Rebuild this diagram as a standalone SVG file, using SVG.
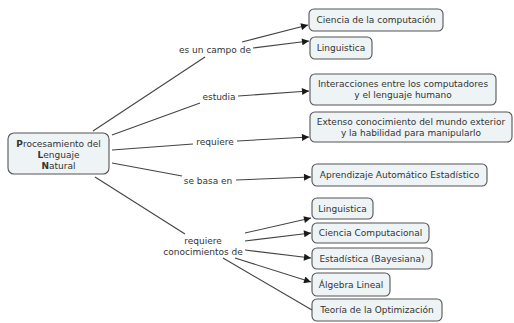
<svg xmlns="http://www.w3.org/2000/svg" width="514" height="323" viewBox="0 0 514 323">
<defs>
<marker id="ah" viewBox="0 0 10 10" refX="10" refY="5" markerWidth="8" markerHeight="7" markerUnits="userSpaceOnUse" orient="auto">
<path d="M0,0 L10,5 L0,10 z" fill="#1a1a1a"/>
</marker>
</defs>
<style>
text{font-family:"DejaVu Sans",Verdana,sans-serif;font-size:9px;fill:#333;text-anchor:middle}
.node rect{fill:#eef3f6;stroke:#555;stroke-width:1.1}
.conn line{stroke:#444;stroke-width:1.1}
.conn .a{marker-end:url(#ah)}
</style>
<rect width="514" height="323" fill="#fff"/>
<g class="conn" id="connectors">
<line x1="93" y1="131" x2="205" y2="57"/>
<line class="a" x1="242" y1="42" x2="308" y2="25"/>
<line class="a" x1="253" y1="48" x2="309" y2="41"/>
<line x1="112" y1="135" x2="200" y2="103"/>
<line class="a" x1="238" y1="96" x2="309" y2="91"/>
<line x1="112" y1="150" x2="193" y2="144"/>
<line class="a" x1="237" y1="141" x2="309" y2="137"/>
<line x1="112" y1="163" x2="182" y2="176"/>
<line class="a" x1="236" y1="180" x2="311" y2="177"/>
<line x1="95" y1="177" x2="185" y2="234"/>
<line class="a" x1="245" y1="233" x2="311" y2="218"/>
<line class="a" x1="245" y1="241" x2="311" y2="233"/>
<line class="a" x1="245" y1="250" x2="311" y2="258"/>
<line class="a" x1="235" y1="258" x2="311" y2="282"/>
<line x1="223" y1="258" x2="312" y2="310"/>
</g>
<g id="labels">
<text x="215" y="53">es un campo de</text>
<text x="219" y="100">estudia</text>
<text x="215" y="145">requiere</text>
<text x="208" y="184">se basa en</text>
<text x="203" y="244">requiere</text>
<text x="203" y="255">conocimientos de</text>
</g>
<g class="node" id="pln">
<rect x="8" y="133" width="101" height="41" rx="6"/>
<text x="58.5" y="147"><tspan font-weight="bold">P</tspan>rocesamiento del</text>
<text x="58.5" y="158"><tspan font-weight="bold">L</tspan>enguaje</text>
<text x="58.5" y="169"><tspan font-weight="bold">N</tspan>atural</text>
</g>
<g class="node" id="ciencia"><rect x="309" y="9" width="134" height="22" rx="5"/><text x="376" y="23.2">Ciencia de la computación</text></g>
<g class="node" id="linguistica1"><rect x="310" y="37" width="62" height="22" rx="5"/><text x="341" y="51.2">Linguistica</text></g>
<g class="node" id="interacciones"><rect x="310" y="74" width="186" height="31" rx="5"/><text x="403" y="87">Interacciones entre los computadores</text><text x="403" y="98">y el lenguaje humano</text></g>
<g class="node" id="extenso"><rect x="310" y="112" width="202" height="30" rx="5"/><text x="411" y="125">Extenso conocimiento del mundo exterior</text><text x="411" y="136">y la habilidad para manipularlo</text></g>
<g class="node" id="aprendizaje"><rect x="312" y="164" width="175" height="22" rx="5"/><text x="399.5" y="178.2">Aprendizaje Automático Estadístico</text></g>
<g class="node" id="linguistica2"><rect x="312" y="198" width="61" height="21" rx="5"/><text x="342.5" y="211.7">Linguistica</text></g>
<g class="node" id="cienciacomp"><rect x="312" y="223" width="117" height="20" rx="5"/><text x="370.5" y="236.2">Ciencia Computacional</text></g>
<g class="node" id="estadistica"><rect x="312" y="248" width="120" height="21" rx="5"/><text x="372" y="261.7">Estadística (Bayesiana)</text></g>
<g class="node" id="algebra"><rect x="312" y="273" width="78" height="23" rx="5"/><text x="351" y="287.7">Álgebra Lineal</text></g>
<g class="node" id="teoria"><rect x="312" y="299" width="130" height="22" rx="5"/><text x="377" y="313.2">Teoría de la Optimización</text></g>
</svg>
